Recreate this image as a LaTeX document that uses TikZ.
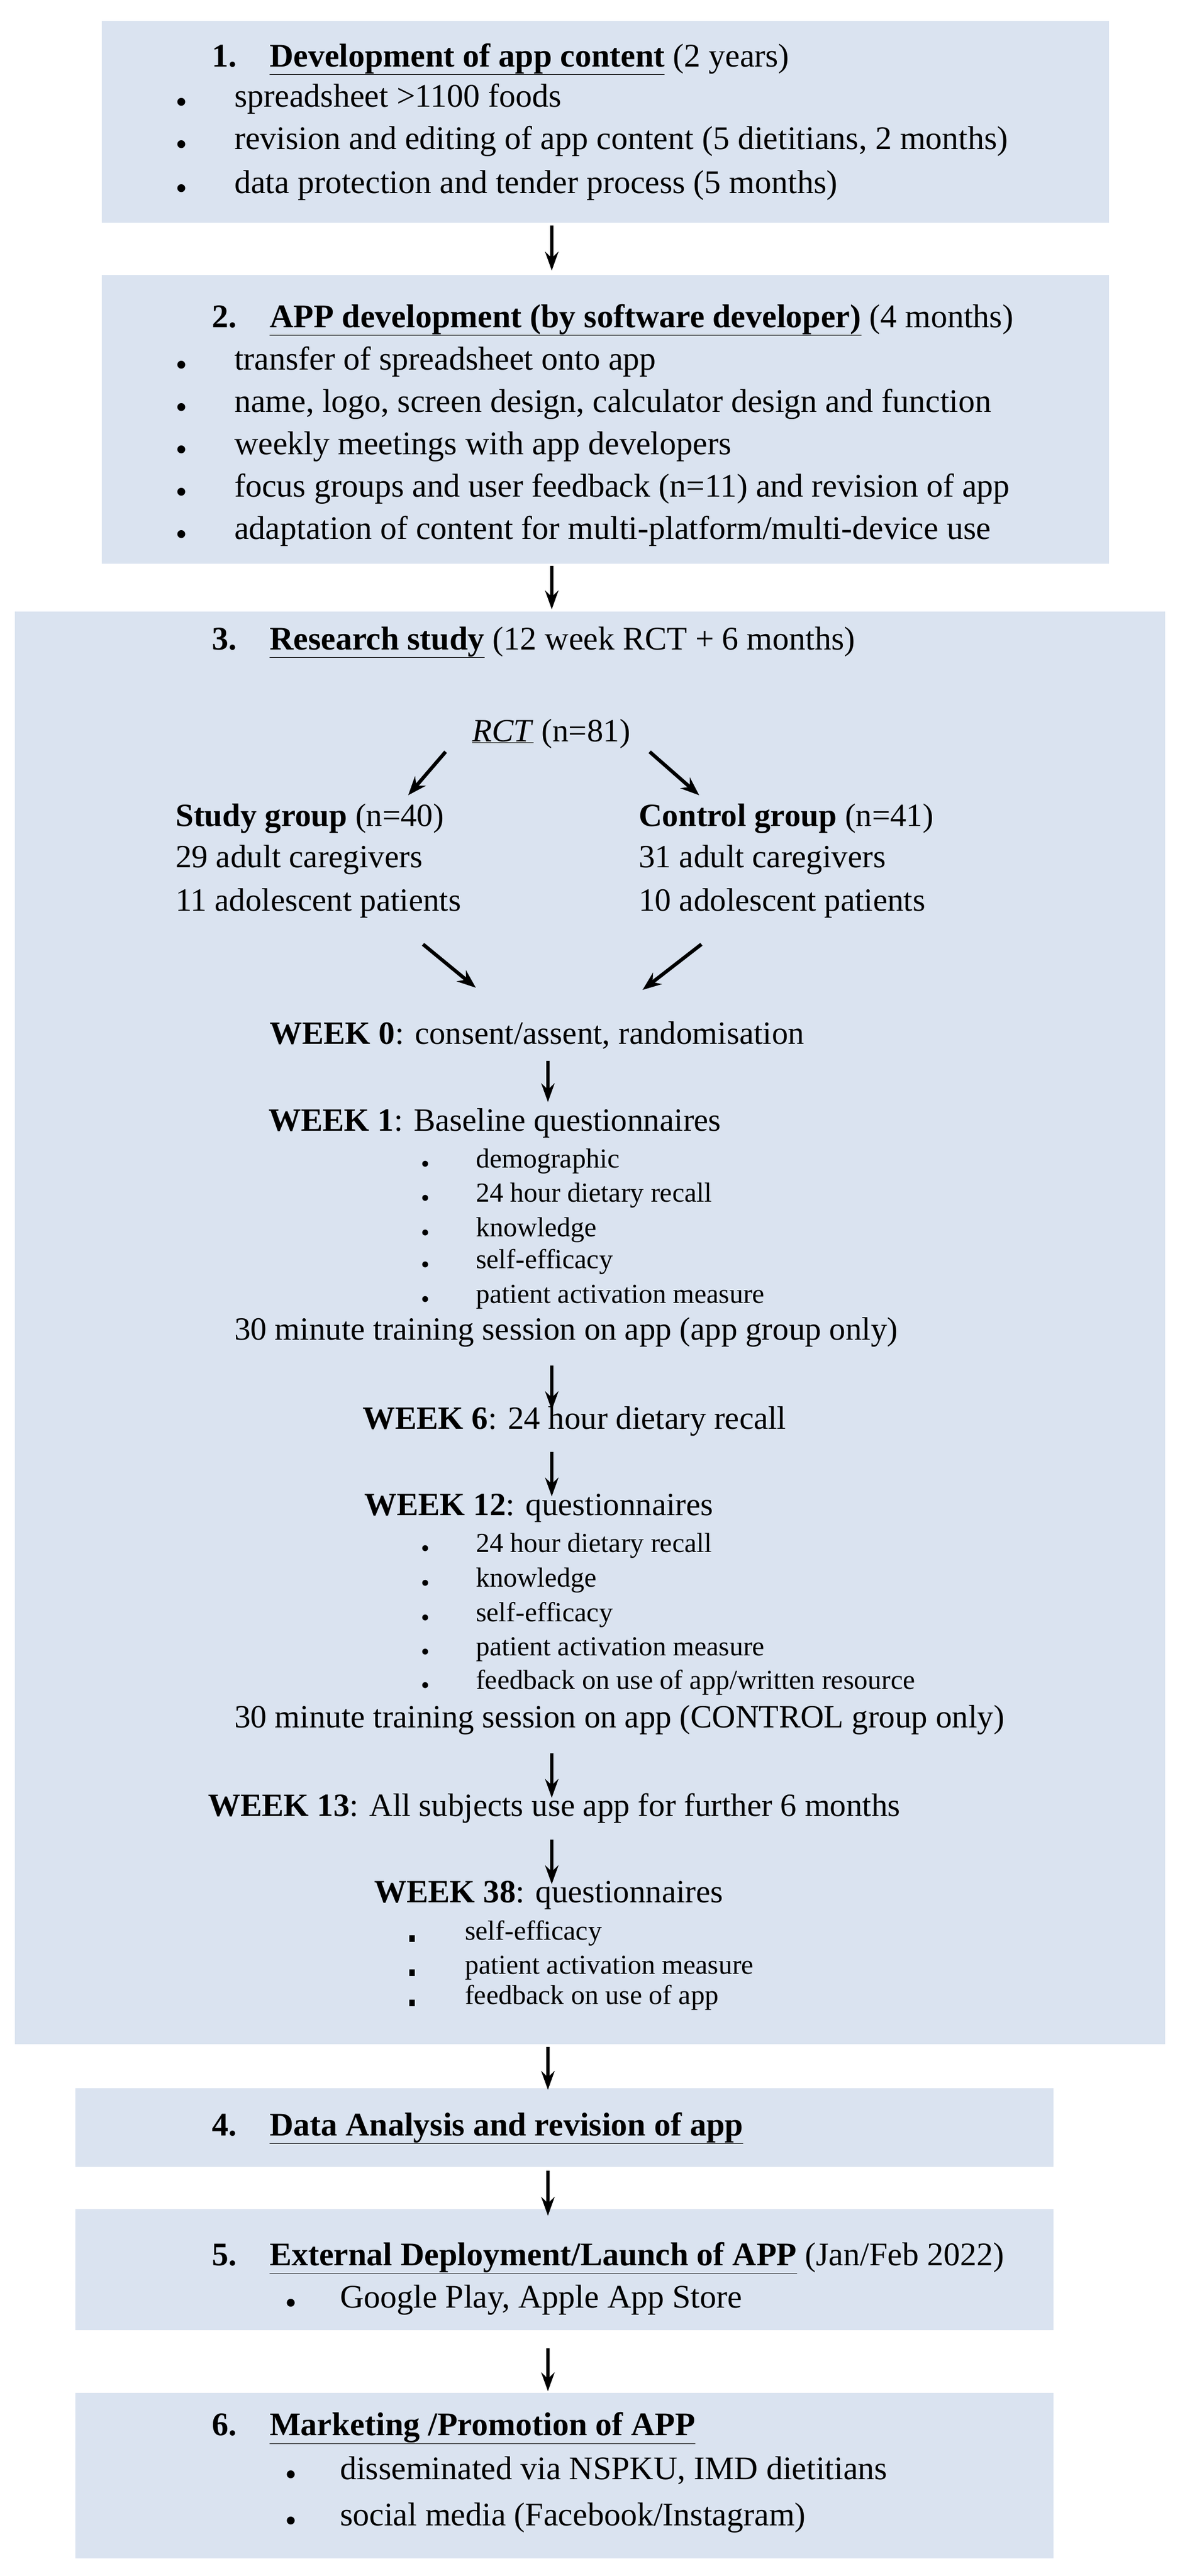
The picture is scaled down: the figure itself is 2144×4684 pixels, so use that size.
\documentclass[tikz,border=0pt]{standalone}
\usepackage{fontspec}
\setmainfont{Liberation Serif}
\usetikzlibrary{arrows.meta}
\definecolor{boxfill}{HTML}{DAE3F0}
\begin{document}
\begin{tikzpicture}[x=1pt,y=-1pt,
  box/.style={fill=boxfill,draw=none},
  t/.style={anchor=mid west,inner sep=0pt,font=\fontsize{60}{72}\selectfont},
  m/.style={anchor=mid west,inner sep=0pt,font=\fontsize{59}{70}\selectfont},
  s/.style={anchor=mid west,inner sep=0pt,font=\fontsize{50}{60}\selectfont},
  bl/.style={anchor=center,inner sep=0pt,font=\fontsize{60}{72}\selectfont},
  arr/.style={-{Stealth[length=34pt,width=24pt]},line width=6pt},
  darr/.style={-{Stealth[length=34pt,width=26pt]},line width=6.5pt}]
\useasboundingbox (0,0) rectangle (2144,4684);
% boxes
\fill[box] (185,38) rectangle (2016,405);
\fill[box] (185,500) rectangle (2016,1025);
\fill[box] (27,1112) rectangle (2118,3717);
\fill[box] (137,3797) rectangle (1915,3940);
\fill[box] (137,4017) rectangle (1915,4237);
\fill[box] (137,4351) rectangle (1915,4652);
\coordinate (b1s) at (1003,410); \coordinate (b2n) at (1003,492);
\coordinate (b2s) at (1003,1029); \coordinate (b3n) at (1003,1108);
\coordinate (b3s) at (996,3722); \coordinate (b4n) at (996,3800);
\coordinate (b4s) at (996,3947); \coordinate (b5n) at (996,4029);
\coordinate (b5s) at (996,4270); \coordinate (b6n) at (996,4348);
\draw[arr] (b1s) -- (b2n);
\draw[arr] (b2s) -- (b3n);
\draw[arr] (b3s) -- (b4n);
\draw[arr] (b4s) -- (b5n);
\draw[arr] (b5s) -- (b6n);
% box 1
\node[t] (n1) at (385,119) {\textbf{1.}};
\node[t] (h1) at (490,119) {\textbf{\underline{Development of app content}} (2 years)};
\foreach \y/\txt [count=\i] in {192/{spreadsheet >1100 foods},269/{revision and editing of app content (5 dietitians, 2 months)},349/{data protection and tender process (5 months)}}{
  \node[bl] (d1b\i) at (330,\y) {\textbullet};
  \node[t] (d1t\i) at (426,\y) {\txt};}
% box 2
\node[t] (n2) at (385,593) {\textbf{2.}};
\node[t] (h2) at (490,593) {\textbf{\underline{APP development (by software developer)}} (4 months)};
\foreach \y/\txt [count=\i] in {670/{transfer of spreadsheet onto app},747/{name, logo, screen design, calculator design and function},824/{weekly meetings with app developers},901/{focus groups and user feedback (n=11) and revision of app},978/{adaptation of content for multi-platform/multi-device use}}{
  \node[bl] (d2b\i) at (330,\y) {\textbullet};
  \node[t] (d2t\i) at (426,\y) {\txt};}
% box 3
\node[t] (n3) at (385,1179) {\textbf{3.}};
\node[t] (h3) at (490,1179) {\textbf{\underline{Research study}} (12 week RCT + 6 months)};
\node[m] (rct) at (858,1346) {\underline{\textit{RCT}} (n=81)};
\coordinate (r1) at (810,1367); \coordinate (r1e) at (742,1446);
\coordinate (r2) at (1181,1367); \coordinate (r2e) at (1271,1446);
\draw[darr] (r1) -- (r1e);
\draw[darr] (r2) -- (r2e);
\node[m] (sg) at (319,1500) {\textbf{Study group} (n=40)};
\node[m] (sg2) at (319,1575) {29 adult caregivers};
\node[m] (sg3) at (319,1654) {11 adolescent patients};
\node[m] (cg) at (1161,1500) {\textbf{Control group} (n=41)};
\node[m] (cg2) at (1161,1575) {31 adult caregivers};
\node[m] (cg3) at (1161,1654) {10 adolescent patients};
\coordinate (c1) at (769,1717); \coordinate (c1e) at (865,1796);
\coordinate (c2) at (1275,1717); \coordinate (c2e) at (1168,1800);
\draw[darr] (c1) -- (c1e);
\draw[darr] (c2) -- (c2e);
\node[m] (w0) at (490,1896) {\textbf{WEEK 0}: consent/assent, randomisation};
\node[m] (w1) at (488,2054) {\textbf{WEEK 1}: Baseline questionnaires};
\foreach \y/\txt [count=\i] in {2121/demographic,2183/{24 hour dietary recall},2246/knowledge,2304/self-efficacy,2367/{patient activation measure}}{
  \node[bl] (w1b\i) at (773,\y) {\fontsize{45}{50}\selectfont\textbullet};
  \node[s] (w1t\i) at (865,\y) {\txt};}
\node[m] (tr1) at (426,2434) {30 minute training session on app (app group only)};
\node[m] (w6) at (659,2596) {\textbf{WEEK 6}: 24 hour dietary recall};
\node[m] (w12) at (662,2753) {\textbf{WEEK 12}: questionnaires};
\foreach \y/\txt [count=\i] in {2820/{24 hour dietary recall},2883/knowledge,2946/self-efficacy,3008/{patient activation measure},3069/{feedback on use of app/written resource}}{
  \node[bl] (w12b\i) at (773,\y) {\fontsize{45}{50}\selectfont\textbullet};
  \node[s] (w12t\i) at (865,\y) {\txt};}
\node[m] (tr2) at (426,3139) {30 minute training session on app (CONTROL group only)};
\node[m] (w13) at (378,3300) {\textbf{WEEK 13}: All subjects use app for further 6 months};
\node[m] (w38) at (680,3457) {\textbf{WEEK 38}: questionnaires};
\foreach \y/\txt [count=\i] in {3525/self-efficacy,3587/{patient activation measure},3642/{feedback on use of app}}{
  \node[bl] (w38b\i) at (749,\y) {\rule{10pt}{12pt}};
  \node[s] (w38t\i) at (845,\y) {\txt};}
\coordinate (a0s) at (996,1929); \coordinate (a0e) at (996,2004);
\draw[arr] (a0s) -- (a0e);
\coordinate (a1s) at (1003,2483); \coordinate (a1e) at (1003,2564);
\draw[arr] (a1s) -- (a1e);
\coordinate (a2s) at (1003,2640); \coordinate (a2e) at (1003,2721);
\draw[arr] (a2s) -- (a2e);
\coordinate (a3s) at (1003,3188); \coordinate (a3e) at (1003,3269);
\draw[arr] (a3s) -- (a3e);
\coordinate (a4s) at (1003,3345); \coordinate (a4e) at (1003,3426);
\draw[arr] (a4s) -- (a4e);
% box 4
\node[t] (n4) at (385,3881) {\textbf{4.}};
\node[t] (h4) at (490,3881) {\textbf{\underline{Data Analysis and revision of app}}};
% box 5
\node[t] (n5) at (385,4117) {\textbf{5.}};
\node[t] (h5) at (490,4117) {\textbf{\underline{External Deployment/Launch of APP}} (Jan/Feb 2022)};
\node[bl] (d5b) at (529,4194) {\textbullet};
\node[t] (d5t) at (618,4194) {Google Play, Apple App Store};
% box 6
\node[t] (n6) at (385,4426) {\textbf{6.}};
\node[t] (h6) at (490,4426) {\textbf{\underline{Marketing /Promotion of APP}}};
\node[bl] (d6b1) at (529,4506) {\textbullet};
\node[t] (d6t1) at (618,4506) {disseminated via NSPKU, IMD dietitians};
\node[bl] (d6b2) at (529,4590) {\textbullet};
\node[t] (d6t2) at (618,4590) {social media (Facebook/Instagram)};
\end{tikzpicture}
\end{document}
